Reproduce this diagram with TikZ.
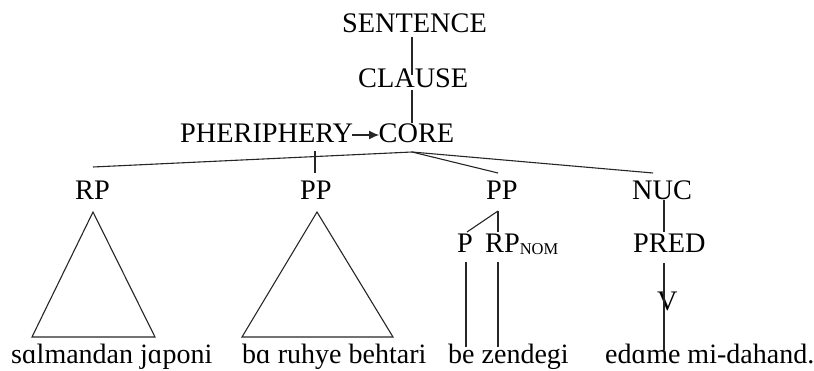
\documentclass[tikz,border=0pt]{standalone}
\usepackage{fontspec}
\setmainfont{Liberation Serif}
\usetikzlibrary{arrows.meta}
\begin{document}
\begin{tikzpicture}[x=1pt,y=-1pt,
  lbl/.style={inner sep=0pt,anchor=base west,font=\fontsize{28.3}{30}\selectfont},
  word/.style={inner sep=0pt,anchor=base west,font=\fontsize{28}{30}\selectfont},
  edge/.style={line width=1.1pt,draw=black!85},
  tri/.style={line width=1.1pt,draw=black!85,line join=miter}]
\useasboundingbox (0,0) rectangle (814,371);
% labels
\node[lbl] (sent) at (342,33) {SENTENCE};
\node[lbl] (clause) at (358,88) {CLAUSE};
\node[lbl] (peri) at (180,143) {PHERIPHERY};
\node[lbl] (core) at (378.5,143) {CORE};
\node[lbl] (rp) at (75,200) {RP};
\node[lbl] (ppa) at (300,200) {PP};
\node[lbl] (ppb) at (486,200) {PP};
\node[lbl] (nuc) at (632,200) {NUC};
\node[lbl] (p) at (457,253) {P};
\node[lbl] (rpnom) at (485,253) {RP\raisebox{-2pt}{\fontsize{16.5}{18}\selectfont NOM}};
\node[lbl] (pred) at (633,253) {PRED};
\node[lbl] (v) at (657,311) {V};
% words
\node[word] (w1) at (11,363) {sɑlmandan jɑponi};
\node[word] (w2) at (242,363) {bɑ ruhye behtari};
\node[word] (w3) at (448,363) {be zendegi};
\node[word] (w4) at (605,363) {edɑme mi-dahand.};
% connector points
\coordinate (sentB) at (412,37);
\coordinate (clauseT) at (412,75);
\coordinate (clauseB) at (412,90);
\coordinate (coreT) at (412,123);
\coordinate (periE) at (352,135);
\coordinate (coreW) at (379,135);
\coordinate (coreB) at (412,152);
\coordinate (rpT) at (93,167);
\coordinate (ppaTop) at (315,151);
\coordinate (ppaT) at (315,173);
\coordinate (ppbT) at (498,173);
\coordinate (nucT) at (653,173);
\coordinate (ppbB) at (498,211);
\coordinate (pT) at (467,232);
\coordinate (rpnomT) at (498,232);
\coordinate (pB) at (466,262);
\coordinate (w3a) at (466,347);
\coordinate (rpnomB) at (498,262);
\coordinate (w3b) at (498,347);
\coordinate (nucB) at (664,200);
\coordinate (predT) at (664,232);
\coordinate (predB) at (664,263);
\coordinate (vT) at (664,310);
\coordinate (w4T) at (664,350);
% connectors
\draw[edge] (sentB) -- (clauseT);
\draw[edge] (clauseB) -- (coreT);
\draw[edge,-{Latex[length=10pt,width=9pt]}] (periE) -- (coreW);
\draw[edge] (coreB) -- (rpT);
\draw[edge] (ppaTop) -- (ppaT);
\draw[edge] (coreB) -- (ppbT);
\draw[edge] (coreB) -- (nucT);
\draw[edge] (ppbB) -- (pT);
\draw[edge] (ppbB) -- (rpnomT);
\draw[edge] (pB) -- (w3a);
\draw[edge] (rpnomB) -- (w3b);
\draw[edge] (nucB) -- (predT);
\draw[edge] (predB) -- (vT);
\draw[edge] (vT) -- (w4T);
% triangles
\draw[tri] (93,212) -- (32,337) -- (155,337) -- cycle;
\draw[tri] (317,212) -- (242,337) -- (393,337) -- cycle;
\end{tikzpicture}
\end{document}
